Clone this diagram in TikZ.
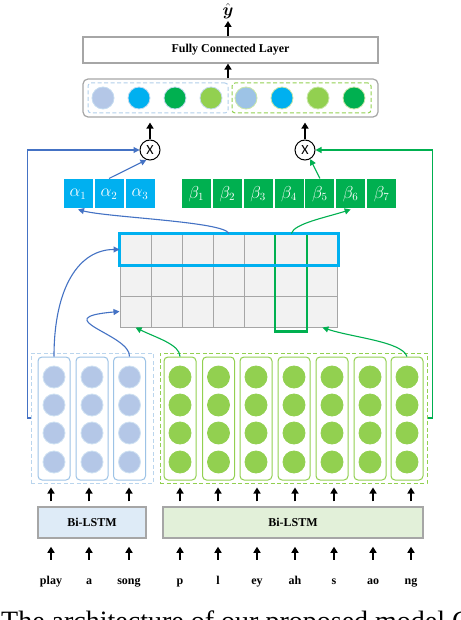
\documentclass[tikz,border=0pt]{standalone}
\usepackage{amsmath}
\usepackage{fontspec}
\setmainfont{Liberation Serif}
\newfontfamily\xfont{Carlito}
\usetikzlibrary{arrows.meta,calc}
\definecolor{cyanb}{HTML}{00B0F0}
\definecolor{gruen}{HTML}{00B050}
\definecolor{hgruen}{HTML}{92D050}
\definecolor{blaul}{HTML}{4472C4}
\definecolor{hblau}{HTML}{B4C7E7}
\definecolor{rblau}{HTML}{9DC3E6}
\definecolor{grau}{HTML}{A6A6A6}
\definecolor{zelle}{HTML}{F2F2F2}
\definecolor{lstmb}{HTML}{DEEBF7}
\definecolor{lstmg}{HTML}{E2F0D9}
\tikzset{
  up/.style={-{Triangle[width=7pt,length=6pt]},line width=2pt},
  link/.style={-{Triangle[width=6pt,length=6pt]},line width=1.1pt},
  box/.style={draw=grau,line width=1.2pt,minimum height=26pt,inner sep=0pt},
  grp/.style={dashed,dash pattern=on 4pt off 2.5pt,line width=1pt,minimum height=130pt,inner sep=0pt},
  col/.style={rounded corners=4pt,line width=1pt,minimum width=32pt,minimum height=123pt,inner sep=0pt},
  dot/.style={circle,minimum size=22pt,inner sep=0pt,line width=0.8pt},
  att/.style={minimum width=30pt,minimum height=30pt,inner sep=0pt,draw=white,line width=1pt,text=white,font=\fontsize{16}{16}\selectfont},
  cell/.style={minimum width=31.14pt,minimum height=31pt,inner sep=0pt,fill=zelle,draw=grau,line width=1pt},
  word/.style={anchor=base,inner sep=0pt,text height=8pt,text depth=2pt,font=\bfseries\fontsize{12}{12}\selectfont},
  mul/.style={circle,draw,line width=1pt,minimum size=20pt,inner sep=0pt,font=\xfont\fontsize{14}{14}\selectfont}
}

\begin{document}
\begin{tikzpicture}[x=1pt,y=-1pt]
  \fill[white] (0,0) rectangle (460,620);
  \useasboundingbox (0,0) rectangle (460,620);

  % output part
  \node[font=\fontsize{19}{19}\selectfont,inner sep=1pt] (yhat) at (228,11) {$\hat{\boldsymbol{y}}$};
  \node[box,minimum width=295pt] (fc) at (230.5,50) {\bfseries\fontsize{12}{12}\selectfont Fully Connected Layer};
  \node[box,rounded corners=5pt,minimum width=295pt,minimum height=38pt] (vec) at (230.5,98) {};
  \node[grp,draw=rblau!80,rounded corners=3pt,minimum width=140pt,minimum height=30pt] (vecA) at (158,98) {};
  \node[grp,draw=hgruen,rounded corners=3pt,minimum width=139pt,minimum height=30pt] (vecB) at (301.5,98) {};
  \foreach \x/\c [count=\i] in {103/hblau,139/cyanb,175/gruen,211/hgruen}
    \node[dot,fill=\c,draw=rblau!60] (vA\i) at (\x,98) {};
  \foreach \x/\c [count=\i] in {246/rblau,282/cyanb,318/hgruen,354/gruen}
    \node[dot,fill=\c,draw=hgruen!50] (vB\i) at (\x,98) {};
  \draw[up,shorten >=1pt] (yhat |- fc.north) -- (yhat.south);
  \draw[up] (yhat |- vec.north) -- (yhat |- fc.south);

  % attention
  \node[mul] (mulA) at (150,150) {X};
  \node[mul] (mulB) at (305,150) {X};
  \draw[up,shorten >=5pt] (mulA.north) -- (mulA |- vec.south);
  \draw[up,shorten >=5pt] (mulB.north) -- (mulB |- vec.south);
  \foreach \x [count=\i] in {78,109,140}
    \node[att,fill=cyanb] (a\i) at (\x,194) {$\alpha_{\i}$};
  \foreach \x [count=\i] in {196.4,227.3,258.1,289,319.9,350.7,381.6}
    \node[att,fill=gruen] (b\i) at (\x,194) {$\beta_{\i}$};
  \draw[link,blaul] (a2.north) -- (mulA.250);
  \draw[link,gruen] (b5.north) -- (mulB.300);

  % matrix
  \foreach \r in {1,2,3}
    \foreach \c in {1,...,7}
      \node[cell] (m\r\c) at ({120+31.14*(\c-0.5)},{234+31*(\r-0.5)}) {};
  \draw[gruen,line width=2.2pt] (m16.north west) rectangle ($(m36.south east)+(0,4)$);
  \draw[cyanb,line width=2.5pt] (m11.north west) rectangle (m17.south east);
  \draw[link,blaul] (m14.north) .. controls +(-5,-12) and +(30,8) .. (a1.south);
  \draw[link,gruen] (m16.north) .. controls +(3,-10) and +(-25,8) .. (b6.south);

  % encoders
  \node[grp,draw=rblau!70,minimum width=122pt] (grpA) at (92,418) {};
  \node[grp,draw=hgruen,minimum width=267pt] (grpB) at (293.5,418) {};
  \foreach \x [count=\i] in {54,92,129.5} {
    \node[col,draw=rblau] (colA\i) at (\x,418.5) {};
    \foreach \yy [count=\j] in {377,405,433,462}
      \node[dot,fill=hblau,draw=rblau!50] (cA\i\j) at (\x,\yy) {};
  }
  \foreach \x [count=\i] in {180,218.5,256,294,332,370,407} {
    \node[col,draw=hgruen] (colB\i) at (\x,418.5) {};
    \foreach \yy [count=\j] in {377,405,433,462}
      \node[dot,fill=hgruen,draw=hgruen] (cB\i\j) at (\x,\yy) {};
  }
  \draw[link,blaul] (colA1.north) .. controls +(0,-70) and +(-40,0) .. (m11.west);
  \draw[link,blaul] (colA3.north) .. controls +(1.5,-22) and +(-75,6.5) .. (m31.west);
  \draw[link,gruen] (colB1.north) .. controls +(0,-12) and +(20,10) .. (m31.south);
  \draw[link,gruen] (colB7.north) .. controls +(-5,-15) and +(30,10) .. (m37.south);
  \draw[link,blaul] (grpA.west) -- ++(-3,0) |- (mulA.west);
  \draw[link,gruen] (grpB.east) -- ++(5,0) |- (mulB.east);

  % Bi-LSTM and inputs
  \node[box,fill=lstmb,line width=1.5pt,minimum width=108pt,minimum height=31pt] (lstmA) at (92,522.5) {\bfseries\fontsize{12}{12}\selectfont Bi-LSTM};
  \node[box,fill=lstmg,line width=1.5pt,minimum width=260pt,minimum height=31pt] (lstmB) at (293,522.5) {\bfseries\fontsize{12}{12}\selectfont Bi-LSTM};
  \foreach \x/\w [count=\i] in {51/play,89/a,129/song} {
    \node[word] (wA\i) at (\x,584) {\w};
    \draw[up,shorten <=16pt,shorten >=8pt] (wA\i.north) -- (wA\i |- lstmA.south);
    \draw[up,shorten <=5pt,shorten >=7pt] (wA\i |- lstmA.north) -- (wA\i |- colA\i.south);
  }
  \foreach \x/\w [count=\i] in {180/p,218/l,257/ey,295/ah,334/s,373/ao,411/ng} {
    \node[word] (wB\i) at (\x,584) {\w};
    \draw[up,shorten <=16pt,shorten >=8pt] (wB\i.north) -- (wB\i |- lstmB.south);
    \draw[up,shorten <=5pt,shorten >=7pt] (wB\i |- lstmB.north) -- (wB\i |- colB\i.south);
  }

  % caption, cut by the page edge
  \node[anchor=base west,inner sep=0pt,font=\fontsize{28}{30}\selectfont] (cap) at (1,630.5) {The architecture of our proposed model C};
\end{tikzpicture}
\end{document}
